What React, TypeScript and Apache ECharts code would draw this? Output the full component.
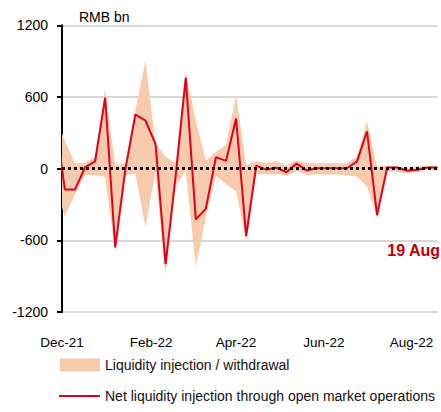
import React, { useEffect, useRef } from 'react';
import * as echarts from 'echarts';

// Weekly (Friday) observations, RMB bn
const weeks = ['2021-11-26','2021-12-03','2021-12-10','2021-12-17','2021-12-24','2021-12-31','2022-01-07','2022-01-14','2022-01-21','2022-01-28','2022-02-04','2022-02-11','2022-02-18','2022-02-25','2022-03-04','2022-03-11','2022-03-18','2022-03-25','2022-04-01','2022-04-08','2022-04-15','2022-04-22','2022-04-29','2022-05-06','2022-05-13','2022-05-20','2022-05-27','2022-06-03','2022-06-10','2022-06-17','2022-06-24','2022-07-01','2022-07-08','2022-07-15','2022-07-22','2022-07-29','2022-08-05','2022-08-12','2022-08-19'];
const injection = [450,235,45,45,100,665,31,48,490,904,215,100,45,820,400,70,140,197,615,31,62,45,65,28,70,45,45,45,45,45,101,397,17,25,20,5,17,23,23];
const withdrawal = [-137,-400,-215,-54,-54,-70,-690,-54,-40,-490,-25,-884,-150,-15,-820,-405,-60,-130,-190,-595,-40,-50,-45,-58,-20,-54,-50,-50,-50,-54,-68,-150,-400,-25,-25,-39,-25,-11,-11];
const netInjection = [440,-175,-175,10,60,594,-659,-10,453,403,208,-800,-60,760,-425,-335,96,65,420,-566,25,-8,8,-30,42,-15,3,3,3,3,59,313,-390,10,10,-17,-10,10,10];

const xTickDates = ['2021-12-01','2022-02-01','2022-04-01','2022-06-01','2022-08-01'];
const xTickLabels = ['Dec-21','Feb-22','Apr-22','Jun-22','Aug-22'];
const xMinDate = '2021-12-01';
const xMaxDate = '2022-08-19';
const yTicks = [-1200, -600, 0, 600, 1200];

const bandName = 'Liquidity injection / withdrawal';
const netName = 'Net liquidity injection through open market operations';

const DAY = 86400000;
const toDay = (s: string) => {
  const [y, m, d] = s.split('-').map(Number);
  return Date.UTC(y, m - 1, d) / DAY;
};

const FONT = '"Liberation Sans", Arial, sans-serif';
const PEACH = '#f8cbad';
const RED = '#e2001a';

export default function App() {
  const ref = useRef<HTMLDivElement>(null);
  useEffect(() => {
    if (!ref.current) return;
    const chart = echarts.init(ref.current, undefined, { renderer: 'svg' });
    const tickDays = xTickDates.map(toDay);
    const pairs = (vals: number[]) => weeks.map((w, i) => [toDay(w), vals[i]]);
    const legendText = { fontSize: 14, fontFamily: FONT, color: '#111' };
    const option: any = {
      animation: false,
      grid: { left: 62, right: 3.5, top: 25.3, bottom: 100, containLabel: false },
      xAxis: {
        type: 'value',
        min: toDay(xMinDate),
        max: toDay(xMaxDate),
        axisLine: { show: false, onZero: false },
        axisTick: { show: false },
        splitLine: { show: false },
        axisLabel: {
          customValues: tickDays,
          margin: 23,
          fontSize: 13.5,
          fontFamily: FONT,
          color: '#000',
          formatter: (v: number) => {
            const i = tickDays.indexOf(v);
            return i >= 0 ? xTickLabels[i] : '';
          },
        },
      },
      yAxis: {
        type: 'value',
        min: yTicks[0],
        max: yTicks[yTicks.length - 1],
        interval: 600,
        axisLine: { show: true, onZero: false, lineStyle: { color: '#000', width: 2 } },
        axisTick: { show: true, length: 5, lineStyle: { color: '#000', width: 2 } },
        splitLine: { show: true, lineStyle: { color: '#d9d9d9', width: 2 } },
        axisLabel: {
          margin: 14,
          fontSize: 14,
          fontFamily: FONT,
          color: '#000',
          formatter: (v: number) => String(v),
        },
      },
      legend: [
        {
          left: 60,
          top: 358,
          padding: 0,
          itemWidth: 40,
          itemHeight: 13,
          textStyle: legendText,
          data: [{ name: bandName, icon: 'rect', itemStyle: { color: PEACH } }],
        },
        {
          left: 59,
          top: 389,
          padding: 0,
          itemWidth: 41,
          itemHeight: 2,
          textStyle: legendText,
          data: [{ name: netName, icon: 'rect', itemStyle: { color: RED } }],
        },
      ],
      graphic: [
        {
          type: 'text',
          left: 79,
          top: 10,
          style: { text: 'RMB bn', font: `14px ${FONT}`, fill: '#000' },
        },
        {
          type: 'text',
          x: 440,
          y: 250,
          style: {
            text: '19 Aug',
            font: `bold 16px ${FONT}`,
            fill: '#c00000',
            textAlign: 'right',
            textVerticalAlign: 'middle',
          },
        },
      ],
      series: [
        {
          name: bandName,
          type: 'line',
          data: pairs(injection),
          symbol: 'none',
          lineStyle: { width: 0, opacity: 0 },
          itemStyle: { color: PEACH },
          areaStyle: { color: PEACH, opacity: 1 },
          z: 1,
        },
        {
          name: bandName,
          type: 'line',
          data: pairs(withdrawal),
          symbol: 'none',
          lineStyle: { width: 0, opacity: 0 },
          itemStyle: { color: PEACH },
          areaStyle: { color: PEACH, opacity: 1 },
          z: 2,
          markLine: {
            silent: true,
            symbol: 'none',
            label: { show: false },
            lineStyle: { color: '#000', type: [3, 3], width: 3 },
            data: [{ yAxis: 0 }],
          },
        },
        {
          name: netName,
          type: 'line',
          data: pairs(netInjection),
          symbol: 'none',
          lineStyle: { color: RED, width: 2 },
          itemStyle: { color: RED },
          z: 3,
        },
      ],
    };
    chart.setOption(option);
    return () => chart.dispose();
  }, []);
  return <div ref={ref} style={{ width: 441, height: 412, position: 'absolute', left: 0, top: 0 }} />;
}
